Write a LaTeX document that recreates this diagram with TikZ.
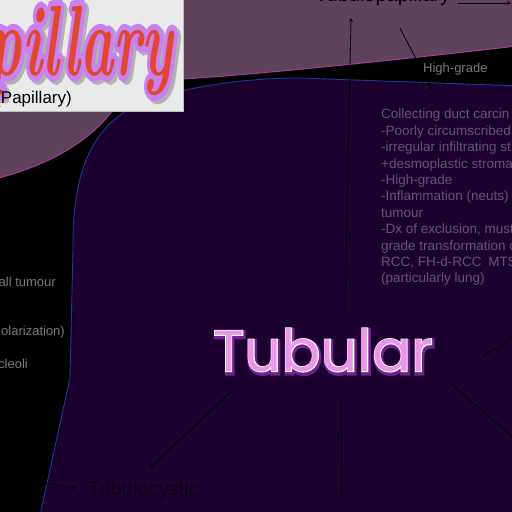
\documentclass[tikz,border=0pt]{standalone}
\usepackage{fontspec}
\setmainfont{Liberation Sans}
\newfontfamily\papwordfont{lmroman10-bolditalic.otf}
\newfontfamily\papglowfont{lmroman10-bolditalic.otf}[FakeBold=12]
\newfontfamily\tubwordfont{Poppins}
\newfontfamily\tubrimfont{Poppins}[FakeBold=3]
\newfontfamily\tubglowfont{Poppins}[FakeBold=8]
\usetikzlibrary{positioning, arrows.meta, calc}
\definecolor{mauve}{RGB}{94,67,90}
\definecolor{tubfill}{RGB}{28,0,48}
\definecolor{tubedge}{RGB}{35,55,150}
\definecolor{papedge}{RGB}{170,60,160}
\definecolor{boxgrey}{RGB}{234,234,234}
\definecolor{lilac}{RGB}{200,130,240}
\definecolor{papred}{RGB}{225,70,50}
\definecolor{tubpink}{RGB}{235,150,235}
\definecolor{tubglow}{RGB}{110,35,140}
\definecolor{notegrey}{RGB}{96,88,110}
\definecolor{sidegrey}{RGB}{120,120,120}
\definecolor{darklabel}{RGB}{12,2,20}
\tikzset{
  arrow/.style={thick,->,>=stealth},
  label/.style={font=\fontsize{20}{24}\selectfont, text=darklabel},
  note/.style={font=\fontsize{13.5}{16.4}\selectfont, text=notegrey, align=left},
  sidenote/.style={font=\fontsize{13}{16}\selectfont, text=sidegrey}
}
\begin{document}
\begin{tikzpicture}[x=1pt, y=-1pt, every node/.style={inner sep=0pt}]
  \clip (0,0) rectangle (512,512);
  \fill[black] (0,0) rectangle (512,512);
  % papillary area (top)
  \fill[mauve] (0,-5) -- (517,-5) -- (517,46) .. controls (380,62) and (250,75) .. (183,79) .. controls (150,82) and (130,90) .. (120,100) .. controls (95,140) and (50,165) .. (-5,179) -- cycle;
  \draw[papedge, line width=0.9pt] (517,46) .. controls (380,62) and (250,75) .. (183,79) .. controls (150,82) and (130,90) .. (120,100) .. controls (95,140) and (50,165) .. (-5,179);
  % tubular area
  \filldraw[fill=tubfill, draw=tubedge, line width=0.9pt] (39,520) -- (70,378) -- (73,250) .. controls (72,165) and (95,125) .. (140,103) .. controls (190,85) and (250,78) .. (300,78) -- (520,86) -- (520,520) -- cycle;
  % title card
  \filldraw[fill=boxgrey, draw=gray!50] (-5,-5) rectangle (183,111);
  \node (papshadow) [anchor=base east, text=gray!60, xscale=0.56, font=\papglowfont\fontsize{100}{100}\selectfont] at (176,78) {Papillary};
  \node (papglow) [anchor=base east, text=lilac, xscale=0.56, font=\papglowfont\fontsize{100}{100}\selectfont] at (173,75) {Papillary};
  \node (papword) [anchor=base east, text=papred, xscale=0.56, font=\papwordfont\fontsize{100}{100}\selectfont] at (173,75) {Papillary};
  \node (papsub) [anchor=base east, font=\fontsize{17}{20}\selectfont] at (72,103) {(Papillary)};

  \node (tubulopap) [label, anchor=base west, text=black] at (315,1) {Tubulopapillary};
  \node (highgrade) [anchor=base west, text=sidegrey, font=\fontsize{13}{16}\selectfont] at (423,72) {High-grade};
  \node (cdc) [note, anchor=north west] at (381,109) {Collecting duct carcin\\-Poorly circumscribed\\-irregular infiltrating st\\+desmoplastic stroma\\-High-grade\\-Inflammation (neuts)\\tumour\\-Dx of exclusion, must\\grade transformation c\\RCC, FH-d-RCC\enspace MTSC\\(particularly lung)};

  \node (smalltum) [sidenote, anchor=base east] at (56,286) {all tumour};
  \node (polar) [sidenote, anchor=base east] at (65,335) {olarization)};
  \node (nucleoli) [sidenote, anchor=base east] at (28,368) {cleoli};

  \node (tubglow) [text=tubglow, font=\tubglowfont\fontsize{58}{58}\selectfont] at (324,352) {Tubular};
  \node (tubrim) [text=white, font=\tubrimfont\fontsize{58}{58}\selectfont] at (323,350) {Tubular};
  \node (tubular) [text=tubpink, font=\tubwordfont\fontsize{58}{58}\selectfont] at (323,350) {Tubular};

  \node (tubulocyst) [label, anchor=base west] at (88,495) {Tubulocystic};

  \coordinate (upend) at (351,18);
  \coordinate (upstart) at (345,312);
  \coordinate (hgstart) at (400,28);
  \coordinate (hgend) at (432,90);
  \coordinate (rightend) at (511,3);
  \coordinate (tcstart) at (45,483);
  \coordinate (downend) at (342,496);
  \coordinate (rup) at (530,329);
  \coordinate (rdown) at (530,452);

  \draw [arrow] (upstart) -- (upend);
  \draw [arrow] (hgstart) -- (hgend);
  \draw [arrow] (tubulopap.base east) ++(8,2) -- (rightend);
  \draw [arrow] (232,391) -- ([xshift=6pt, yshift=12pt]tubulocyst.north);
  \draw [arrow] (tcstart) -- ([xshift=-12pt, yshift=7pt]tubulocyst.base west);
  \draw [arrow] (341,396) -- (downend);
  \draw [thick] (483,356) -- (rup);
  \draw [thick] (450,383) -- (rdown);
\end{tikzpicture}
\end{document}
